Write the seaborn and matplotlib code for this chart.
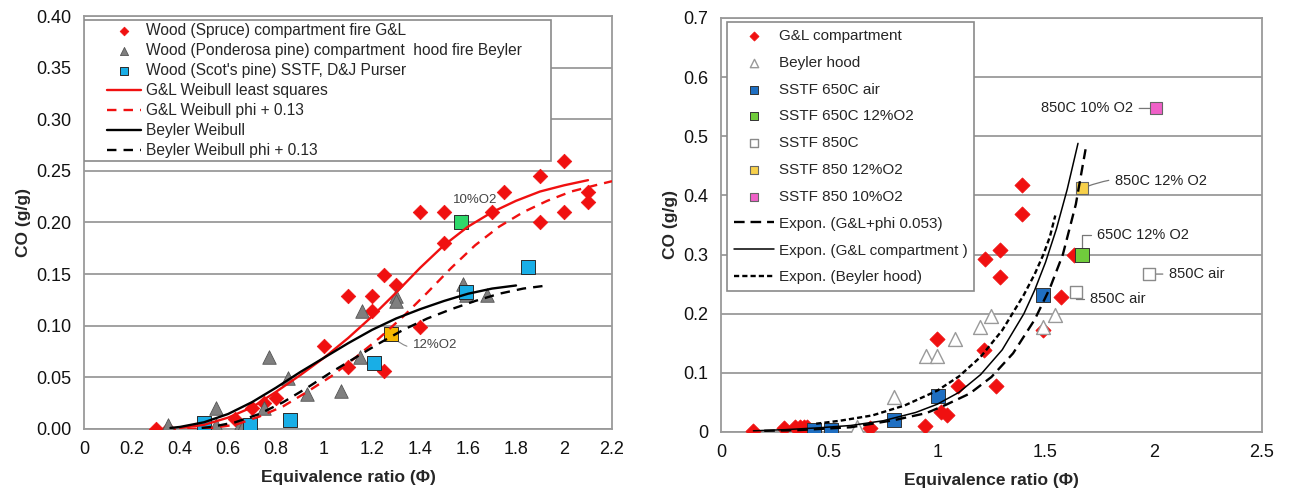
import matplotlib
matplotlib.use("Agg")
import matplotlib.pyplot as plt
from matplotlib.patches import Rectangle
import seaborn as sns

# ---------------- data: left panel (Weibull) ----------------
gl_x = [0.30, 0.35, 0.50, 0.63, 0.70, 0.75, 0.80, 1.00, 1.10, 1.10, 1.20, 1.20, 1.25, 1.25,
        1.30, 1.40, 1.40, 1.50, 1.50, 1.70, 1.75, 1.90, 1.90, 2.00, 2.00, 2.10, 2.10]
gl_y = [0.000, 0.000, 0.000, 0.010, 0.020, 0.025, 0.030, 0.080, 0.129, 0.060, 0.129, 0.114, 0.149, 0.056,
        0.139, 0.099, 0.210, 0.210, 0.180, 0.210, 0.230, 0.245, 0.200, 0.260, 0.210, 0.230, 0.220]

by_x = [0.35, 0.50, 0.55, 0.55, 0.65, 0.66, 0.75, 0.77, 0.85, 0.93, 1.07, 1.15, 1.16, 1.30, 1.30, 1.58, 1.59, 1.68]
by_y = [0.004, 0.004, 0.020, 0.004, 0.004, 0.001, 0.020, 0.070, 0.049, 0.034, 0.037, 0.070, 0.114, 0.129, 0.124, 0.140, 0.130, 0.130]

sstf_x = [0.50, 0.69, 0.86, 1.21, 1.59, 1.85]
sstf_y = [0.006, 0.004, 0.009, 0.064, 0.133, 0.157]
o10_x, o10_y = [1.57], [0.200]
o12_x, o12_y = [1.28], [0.092]

glw_x = [0.40, 0.50, 0.60, 0.70, 0.80, 0.90, 1.00, 1.10, 1.20, 1.30, 1.40, 1.50, 1.60, 1.70, 1.80, 1.90, 2.00, 2.10]
glw_y = [0.001, 0.004, 0.011, 0.021, 0.036, 0.052, 0.069, 0.088, 0.109, 0.132, 0.156, 0.178, 0.196, 0.210, 0.221, 0.230, 0.236, 0.241]
glp_x = [0.43, 0.53, 0.63, 0.73, 0.83, 0.93, 1.03, 1.13, 1.23, 1.33, 1.43, 1.53, 1.63, 1.73, 1.83, 1.93, 2.03, 2.13, 2.20]
glp_y = [0.000, 0.001, 0.004, 0.012, 0.022, 0.036, 0.051, 0.069, 0.088, 0.109, 0.132, 0.156, 0.178, 0.196, 0.210, 0.221, 0.230, 0.236, 0.240]
byw_x = [0.36, 0.40, 0.50, 0.60, 0.70, 0.80, 0.90, 1.00, 1.10, 1.20, 1.30, 1.40, 1.50, 1.60, 1.70, 1.80]
byw_y = [0.001, 0.002, 0.0065, 0.0145, 0.026, 0.040, 0.055, 0.069, 0.083, 0.096, 0.107, 0.116, 0.124, 0.131, 0.136, 0.139]
byp_x = [0.49, 0.53, 0.63, 0.73, 0.83, 0.93, 1.03, 1.13, 1.23, 1.33, 1.43, 1.53, 1.63, 1.73, 1.83, 1.93]
byp_y = [0.001, 0.002, 0.0065, 0.0145, 0.026, 0.040, 0.055, 0.069, 0.083, 0.096, 0.107, 0.116, 0.124, 0.131, 0.136, 0.139]

left_xticks = [0, 0.2, 0.4, 0.6, 0.8, 1.0, 1.2, 1.4, 1.6, 1.8, 2.0, 2.2]
left_xlabels = ["0", "0.2", "0.4", "0.6", "0.8", "1", "1.2", "1.4", "1.6", "1.8", "2", "2.2"]
left_yticks = [0, 0.05, 0.10, 0.15, 0.20, 0.25, 0.30, 0.35, 0.40]
left_ylabels = ["0.00", "0.05", "0.10", "0.15", "0.20", "0.25", "0.30", "0.35", "0.40"]

# ---------------- data: right panel (exponential) ----------------
gl2_x = [0.15, 0.29, 0.34, 0.365, 0.385, 0.40, 0.69, 0.945, 1.00, 1.015, 1.045, 1.095, 1.215, 1.22,
         1.27, 1.29, 1.29, 1.39, 1.39, 1.49, 1.57, 1.63]
gl2_y = [0.001, 0.006, 0.009, 0.009, 0.009, 0.009, 0.006, 0.010, 0.157, 0.034, 0.028, 0.078, 0.138, 0.292,
         0.078, 0.308, 0.262, 0.418, 0.368, 0.172, 0.228, 0.300]
bh_x = [0.63, 0.80, 0.948, 0.997, 1.08, 1.195, 1.25, 1.49, 1.545]
bh_y = [0.009, 0.059, 0.128, 0.128, 0.157, 0.178, 0.196, 0.177, 0.197]
s650_x = [0.43, 0.51, 0.80, 1.005, 1.49]
s650_y = [0.003, 0.004, 0.021, 0.061, 0.232]
s650o12_x, s650o12_y = [1.67], [0.300]
s850_x, s850_y = [1.64, 1.98], [0.237, 0.267]
s850o12_x, s850o12_y = [1.67], [0.412]
s850o10_x, s850o10_y = [2.01], [0.547]

ep_x = [0.20, 0.35, 0.50, 0.60, 0.80, 0.95, 1.04, 1.15, 1.25, 1.35, 1.45, 1.52, 1.58, 1.64, 1.685]
ep_y = [0.002, 0.003, 0.006, 0.008, 0.020, 0.032, 0.046, 0.065, 0.093, 0.133, 0.190, 0.243, 0.300, 0.385, 0.478]
eg_x = [0.15, 0.30, 0.45, 0.60, 0.75, 0.90, 1.00, 1.10, 1.20, 1.30, 1.40, 1.45, 1.50, 1.55, 1.60, 1.65]
eg_y = [0.002, 0.004, 0.007, 0.011, 0.019, 0.033, 0.047, 0.067, 0.097, 0.139, 0.200, 0.240, 0.287, 0.343, 0.410, 0.488]
eb_x = [0.44, 0.55, 0.70, 0.85, 1.00, 1.10, 1.20, 1.30, 1.40, 1.45, 1.49, 1.52, 1.545]
eb_y = [0.014, 0.019, 0.028, 0.045, 0.070, 0.094, 0.127, 0.172, 0.232, 0.267, 0.300, 0.330, 0.366]

right_xticks = [0, 0.5, 1.0, 1.5, 2.0, 2.5]
right_xlabels = ["0", "0.5", "1", "1.5", "2", "2.5"]
right_yticks = [0, 0.1, 0.2, 0.3, 0.4, 0.5, 0.6, 0.7]
right_ylabels = ["0", "0.1", "0.2", "0.3", "0.4", "0.5", "0.6", "0.7"]

# ---------------- style ----------------
sns.set_style("white")
plt.rcParams["font.family"] = ["Liberation Sans", "DejaVu Sans"]
GRID = "#9a9a9a"

fig = plt.figure(figsize=(12.89, 4.91), dpi=100)
axL = fig.add_axes([0.0652, 0.1263, 0.4096, 0.8411])
axR = fig.add_axes([0.5593, 0.1202, 0.4197, 0.8432])


def style_axes(ax, xt, xl, yt, yl, xlim, ylim):
    ax.set_xlim(*xlim)
    ax.set_ylim(*ylim)
    ax.set_xticks(xt)
    ax.set_xticklabels(xl)
    ax.set_yticks(yt)
    ax.set_yticklabels(yl)
    ax.yaxis.grid(True, color=GRID, lw=1.3)
    ax.xaxis.grid(False)
    ax.set_axisbelow(True)
    for s in ax.spines.values():
        s.set_color(GRID)
        s.set_linewidth(1.3)
        s.set_visible(True)
    ax.tick_params(axis="both", direction="out", length=5, width=1.1, color=GRID,
                   labelsize=13, labelcolor="#111", pad=4)
    ax.set_xlabel("Equivalence ratio (Φ)", fontsize=12.5, fontweight="bold", labelpad=8)
    ax.set_ylabel("CO (g/g)", fontsize=12.5, fontweight="bold", labelpad=4)


# ---------------- left panel ----------------
RED = "#f01010"
sns.scatterplot(x=gl_x, y=gl_y, ax=axL, marker="D", color=RED, s=55, edgecolor=RED,
                linewidth=0.5, label="Wood (Spruce) compartment fire G&L", zorder=3)
sns.scatterplot(x=by_x, y=by_y, ax=axL, marker="^", color="#7f7f7f", s=95, edgecolor="#555555",
                linewidth=0.6, label="Wood (Ponderosa pine) compartment  hood fire Beyler", zorder=3)
sns.scatterplot(x=sstf_x, y=sstf_y, ax=axL, marker="s", color="#19aee6", s=100, edgecolor="#2a2a2a",
                linewidth=0.7, label="Wood (Scot's pine) SSTF, D&J Purser", zorder=4)
sns.scatterplot(x=o10_x, y=o10_y, ax=axL, marker="s", color="#2fd86a", s=100, edgecolor="#2a2a2a",
                linewidth=0.7, zorder=4, legend=False)
sns.scatterplot(x=o12_x, y=o12_y, ax=axL, marker="s", color="#f5b800", s=100, edgecolor="#2a2a2a",
                linewidth=0.7, zorder=4, legend=False)

sns.lineplot(x=glw_x, y=glw_y, ax=axL, color=RED, lw=1.7, label="G&L Weibull least squares", zorder=5)
sns.lineplot(x=glp_x, y=glp_y, ax=axL, color=RED, lw=1.7, linestyle=(0, (4, 3)),
             label="G&L Weibull phi + 0.13", zorder=5)
sns.lineplot(x=byw_x, y=byw_y, ax=axL, color="black", lw=1.7, label="Beyler Weibull", zorder=5)
sns.lineplot(x=byp_x, y=byp_y, ax=axL, color="black", lw=1.7, linestyle=(0, (4, 3)),
             label="Beyler Weibull phi + 0.13", zorder=5)

style_axes(axL, left_xticks, left_xlabels, left_yticks, left_ylabels, (0, 2.2), (0, 0.40))
# legend frame (wide horizontal padding, as in the original)
axL.add_patch(Rectangle((0.0, 0.650), 0.884, 0.341, transform=axL.transAxes, facecolor="white",
                        edgecolor="#8a8a8a", lw=1.2, zorder=8))
legL = axL.legend(loc="upper left", bbox_to_anchor=(0.044, 0.984), borderaxespad=0, borderpad=0,
                  fontsize=11.2, frameon=False, markerscale=0.6, handlelength=2.2,
                  labelspacing=0.33, handletextpad=0.3)
legL.set_zorder(10)

ann_kw = dict(fontsize=9.5, color="#444444")
axL.annotate("10%O2", xy=(1.585, 0.205), xytext=(1.63, 0.222), ha="center", va="center",
             arrowprops=dict(arrowstyle="-", color="#888888", lw=0.8, shrinkA=5, shrinkB=0), **ann_kw)
axL.annotate("12%O2", xy=(1.29, 0.088), xytext=(1.37, 0.081), ha="left", va="center",
             arrowprops=dict(arrowstyle="-", color="#888888", lw=0.8, shrinkA=2, shrinkB=0,
                             connectionstyle="arc3,rad=-0.3"), **ann_kw)

# ---------------- right panel ----------------
sns.scatterplot(x=gl2_x, y=gl2_y, ax=axR, marker="D", color=RED, s=60, edgecolor=RED,
                linewidth=0.5, label="G&L compartment", zorder=3)
sns.scatterplot(x=bh_x, y=bh_y, ax=axR, marker="^", color="white", s=100, edgecolor="#9a9a9a",
                linewidth=1.0, label="Beyler hood", zorder=3)
sns.scatterplot(x=s650_x, y=s650_y, ax=axR, marker="s", color="#1f6fc2", s=100, edgecolor="#333333",
                linewidth=0.7, label="SSTF 650C air", zorder=4)
sns.scatterplot(x=s650o12_x, y=s650o12_y, ax=axR, marker="s", color="#70cc3c", s=100, edgecolor="#333333",
                linewidth=0.7, label="SSTF 650C 12%O2", zorder=4)
sns.scatterplot(x=s850_x, y=s850_y, ax=axR, marker="s", color="white", s=85, edgecolor="#8a8a8a",
                linewidth=1.0, label="SSTF 850C", zorder=4)
sns.scatterplot(x=s850o12_x, y=s850o12_y, ax=axR, marker="s", color="#f7d04a", s=85, edgecolor="#666666",
                linewidth=0.8, label="SSTF 850 12%O2", zorder=4)
sns.scatterplot(x=s850o10_x, y=s850o10_y, ax=axR, marker="s", color="#f060c8", s=85, edgecolor="#666666",
                linewidth=0.8, label="SSTF 850 10%O2", zorder=4)

sns.lineplot(x=ep_x, y=ep_y, ax=axR, color="black", lw=1.7, linestyle=(0, (4.5, 2.5)),
             label="Expon. (G&L+phi 0.053)", zorder=5)
sns.lineplot(x=eg_x, y=eg_y, ax=axR, color="black", lw=1.1, label="Expon. (G&L compartment )", zorder=5)
sns.lineplot(x=eb_x, y=eb_y, ax=axR, color="black", lw=1.7, linestyle=(0, (2.2, 1.3)),
             label="Expon. (Beyler hood)", zorder=5)

style_axes(axR, right_xticks, right_xlabels, right_yticks, right_ylabels, (0, 2.5), (0, 0.7))
legR = axR.legend(loc="upper left", bbox_to_anchor=(0.012, 0.99), borderaxespad=0, fontsize=11,
                  frameon=True, fancybox=False, framealpha=1, edgecolor="#8a8a8a",
                  markerscale=0.6, handlelength=2.6, labelspacing=0.84, handletextpad=0.3,
                  borderpad=0.45)
legR.get_frame().set_linewidth(1.2)
legR.set_zorder(10)

annR = dict(fontsize=10.5, color="#222222")
lineR = dict(arrowstyle="-", color="#777777", lw=0.9, shrinkA=2, shrinkB=4)
axR.annotate("850C 10% O2", xy=(2.01, 0.547), xytext=(1.905, 0.547), ha="right", va="center",
             arrowprops=lineR, **annR)
axR.annotate("850C 12% O2", xy=(1.67, 0.412), xytext=(1.82, 0.425), ha="left", va="center",
             arrowprops=dict(lineR, connectionstyle="arc3,rad=0.15"), **annR)
axR.annotate("650C 12% O2", xy=(1.67, 0.300), xytext=(1.74, 0.333), ha="left", va="center",
             arrowprops=dict(lineR, connectionstyle="angle,angleA=0,angleB=90,rad=0"), **annR)
axR.annotate("850C air", xy=(1.98, 0.267), xytext=(2.07, 0.267), ha="left", va="center",
             arrowprops=lineR, **annR)
axR.annotate("850C air", xy=(1.64, 0.237), xytext=(1.705, 0.224), ha="left", va="center",
             arrowprops=dict(lineR, connectionstyle="angle,angleA=0,angleB=90,rad=0"), **annR)

fig.savefig("out.png", dpi=100)
